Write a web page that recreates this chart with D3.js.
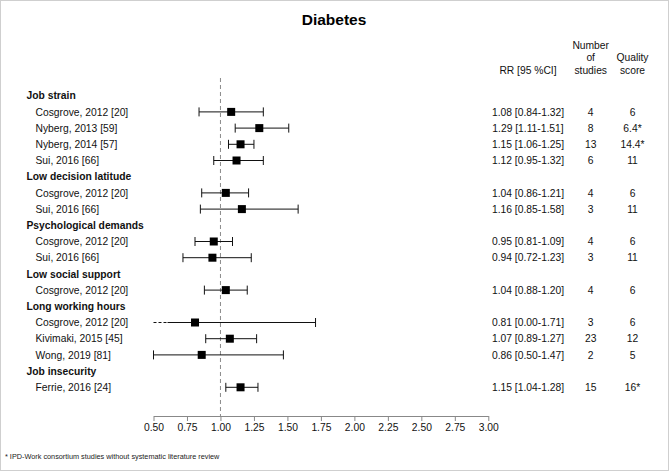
<!DOCTYPE html>
<html>
<head>
<meta charset="utf-8">
<script src="https://cdn.jsdelivr.net/npm/d3@7"></script>
<style>
  html, body { margin: 0; padding: 0; background: #fff; }
  svg { display: block; font-family: "Liberation Sans", Arial, sans-serif; }
</style>
</head>
<body>
<svg id="chart" width="669" height="472"></svg>
<script>
// ---- Data ----
const title = "Diabetes";
const groups = ["Job strain", "Low decision latitude", "Psychological demands",
  "Low social support", "Long working hours", "Job insecurity"];
const studyGroup = [0, 0, 0, 0, 1, 1, 2, 2, 3, 4, 4, 4, 5];
const studies = ["Cosgrove, 2012 [20]", "Nyberg, 2013 [59]", "Nyberg, 2014 [57]", "Sui, 2016 [66]",
  "Cosgrove, 2012 [20]", "Sui, 2016 [66]",
  "Cosgrove, 2012 [20]", "Sui, 2016 [66]",
  "Cosgrove, 2012 [20]",
  "Cosgrove, 2012 [20]", "Kivimaki, 2015 [45]", "Wong, 2019 [81]",
  "Ferrie, 2016 [24]"];
const rr    = [1.08, 1.29, 1.15, 1.12, 1.04, 1.16, 0.95, 0.94, 1.04, 0.81, 1.07, 0.86, 1.15];
const lower = [0.84, 1.11, 1.06, 0.95, 0.86, 0.85, 0.81, 0.72, 0.88, 0.00, 0.89, 0.50, 1.04];
const upper = [1.32, 1.51, 1.25, 1.32, 1.21, 1.58, 1.09, 1.23, 1.20, 1.71, 1.27, 1.47, 1.28];
const nStudies = ["4", "8", "13", "6", "4", "3", "4", "3", "4", "3", "23", "2", "15"];
const quality  = ["6", "6.4*", "14.4*", "11", "6", "11", "6", "11", "6", "6", "12", "5", "16*"];
const xTicks = [0.5, 0.75, 1.0, 1.25, 1.5, 1.75, 2.0, 2.25, 2.5, 2.75, 3.0];
const refValue = 1.0;
const footnote = "* IPD-Work consortium studies without systematic literature review";

// ---- Build rows ----
const rows = [];
groups.forEach((g, gi) => {
  rows.push({ type: "group", label: g, id: "g" + gi });
  studies.forEach((s, i) => {
    if (studyGroup[i] === gi) rows.push({ type: "study", i, id: "s" + i });
  });
});

const svg = d3.select("#chart");
const fs = 10.3;

// border
svg.append("rect").attr("x", 0.5).attr("y", 0.5).attr("width", 668).attr("height", 470)
  .attr("fill", "#fff").attr("stroke", "#cfcfcf");

const x = d3.scaleLinear().domain([0.5, 3.0]).range([153.5, 488.3]);
const y = d3.scalePoint().domain(rows.map(r => r.id)).range([95.7, 387.3]);
const axisY = 416;

// title
svg.append("text").attr("x", 334).attr("y", 20).attr("dy", "0.35em")
  .attr("text-anchor", "middle").attr("font-weight", "bold").attr("font-size", 15.5)
  .text(title);

// headers
const hdr = svg.append("g").attr("font-size", fs).attr("text-anchor", "middle").attr("fill", "#111");
hdr.append("text").attr("x", 528).attr("y", 70).attr("dy", "0.35em").text("RR [95 %CI]");
[["Number", 45], ["of", 57.5], ["studies", 70]].forEach(([t, yy]) =>
  hdr.append("text").attr("x", 590.7).attr("y", yy).attr("dy", "0.35em").text(t));
[["Quality", 57.5], ["score", 70]].forEach(([t, yy]) =>
  hdr.append("text").attr("x", 632.5).attr("y", yy).attr("dy", "0.35em").text(t));

// reference dashed line
svg.append("line").attr("x1", x(refValue)).attr("x2", x(refValue))
  .attr("y1", 78).attr("y2", axisY)
  .attr("stroke", "#8a8a8a").attr("stroke-width", 1).attr("stroke-dasharray", "4,3");

// axis
const axis = d3.axisBottom(x).tickValues(xTicks).tickFormat(d3.format(".2f")).tickSize(5).tickSizeOuter(0);
const ax = svg.append("g").attr("transform", `translate(0,${axisY})`).call(axis);
ax.select(".domain").attr("stroke", "#888");
ax.selectAll(".tick line").attr("stroke", "#888");
ax.selectAll(".tick text").attr("font-size", fs).attr("fill", "#111")
  .attr("font-family", "Liberation Sans, Arial, sans-serif").attr("y", 8).attr("dy", "0.71em");

// rows
const g = svg.append("g");
rows.forEach(r => {
  const yy = y(r.id);
  if (r.type === "group") {
    g.append("text").attr("x", 26.5).attr("y", yy).attr("dy", "0.35em")
      .attr("font-size", fs).attr("font-weight", "bold").attr("fill", "#111").text(r.label);
    return;
  }
  const i = r.i;
  g.append("text").attr("x", 35.5).attr("y", yy).attr("dy", "0.35em")
    .attr("font-size", fs).attr("fill", "#111").text(studies[i]);
  const lo = lower[i], hi = upper[i];
  const xmin = x.domain()[0];
  const capH = 4.5;
  if (lo < xmin) {
    const xs = x(xmin) + 14;
    g.append("line").attr("x1", x(xmin)).attr("x2", xs).attr("y1", yy).attr("y2", yy)
      .attr("stroke", "#111").attr("stroke-dasharray", "3,2");
    g.append("line").attr("x1", xs).attr("x2", x(hi)).attr("y1", yy).attr("y2", yy).attr("stroke", "#111");
  } else {
    g.append("line").attr("x1", x(lo)).attr("x2", x(hi)).attr("y1", yy).attr("y2", yy).attr("stroke", "#111");
    g.append("line").attr("x1", x(lo)).attr("x2", x(lo)).attr("y1", yy - capH).attr("y2", yy + capH).attr("stroke", "#111");
  }
  g.append("line").attr("x1", x(hi)).attr("x2", x(hi)).attr("y1", yy - capH).attr("y2", yy + capH).attr("stroke", "#111");
  const bs = 8;
  g.append("rect").attr("x", x(rr[i]) - bs / 2).attr("y", yy - bs / 2).attr("width", bs).attr("height", bs).attr("fill", "#000");

  const ciText = `${rr[i].toFixed(2)} [${lo.toFixed(2)}-${hi.toFixed(2)}]`;
  g.append("text").attr("x", 528).attr("y", yy).attr("dy", "0.35em").attr("text-anchor", "middle")
    .attr("font-size", fs).attr("fill", "#111").text(ciText);
  g.append("text").attr("x", 590.7).attr("y", yy).attr("dy", "0.35em").attr("text-anchor", "middle")
    .attr("font-size", fs).attr("fill", "#111").text(nStudies[i]);
  g.append("text").attr("x", 632.5).attr("y", yy).attr("dy", "0.35em").attr("text-anchor", "middle")
    .attr("font-size", fs).attr("fill", "#111").text(quality[i]);
});

// footnote
svg.append("text").attr("x", 5).attr("y", 456).attr("dy", "0.35em")
  .attr("font-size", 7.3).attr("fill", "#222").text(footnote);
</script>
</body>
</html>
